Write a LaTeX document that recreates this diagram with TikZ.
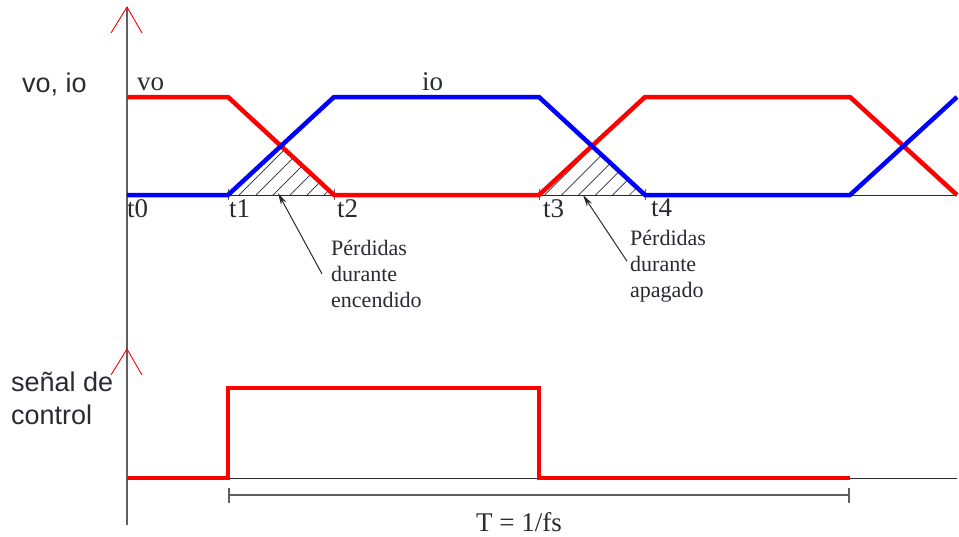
\documentclass[tikz,border=0pt]{standalone}
\usepackage{fontspec}
\setmainfont{Liberation Serif}
\setsansfont{Liberation Sans}
\usepackage{xcolor}
\usetikzlibrary{arrows.meta,patterns.meta}
\definecolor{ink}{RGB}{42,42,50}
\definecolor{axisgray}{RGB}{95,95,100}
\newcommand{\lblsize}{\fontsize{27}{33}\selectfont}
\newcommand{\notesize}{\fontsize{22}{26}\selectfont}

\begin{document}
\begin{tikzpicture}[x=1pt,y=-1pt,>={Stealth[length=12pt,width=6pt]},
  axis/.style={axisgray,line width=1.3pt},
  axtip/.style={red,line width=0.9pt},
  base/.style={ink,line width=1pt},
  tickmark/.style={axisgray,line width=0.9pt},
  vo/.style={red,line width=4.5pt,line join=miter},
  io/.style={blue,line width=4.5pt,line join=miter},
  loss/.style={pattern={Lines[angle=45,distance=12pt,line width=0.7pt]},pattern color=ink},
  tlab/.style={font=\lblsize,text=ink,inner sep=0pt,anchor=north west},
  slab/.style={font=\sffamily\lblsize,text=ink,inner sep=0pt,align=left},
  note/.style={font=\notesize,text=ink,inner sep=0pt,align=left,anchor=north west},
  pointer/.style={->,ink,line width=1pt},
  dim/.style={{Bar[width=15pt]}-{Bar[width=15pt]},axisgray,line width=1.8pt}]
\useasboundingbox (0,0) rectangle (959,536);
% time instants and levels
\coordinate (t0) at (127,195);
\coordinate (t1) at (228,195);
\coordinate (t2) at (334,195);
\coordinate (t3) at (539,195);
\coordinate (t4) at (645,195);
\coordinate (t5) at (850,195);
\coordinate (t6) at (957,195);
% axes
\draw[axis] (127,7) -- (127,525);
\draw[axtip] (111,33) -- (127,7) -- (142,33);
\draw[axtip] (111,375) -- (127,349) -- (142,375);
\draw[base] (t0) -- (t6);
\draw[base] (127,478) -- (957,478);
% switching losses
\fill[loss] (t1) -- (281,146) -- (t2) -- cycle;
\fill[loss] (t3) -- (592,146) -- (t4) -- cycle;
\foreach \t in {t1,t2,t3,t4}
  \draw[tickmark] ([yshift=-5pt]\t) -- ([yshift=6pt]\t);
% vo and io
\draw[vo] (127,97) -- (228,97) -- (t2) -- (t3) -- (645,97) -- (850,97) -- (t6);
\draw[io] (t0) -- (t1) -- (334,97) -- (539,97) -- (t4) -- (t5) -- (957,97);
% labels
\node[tlab] (lt0) at (127,199) {t0};
\node[tlab] (lt1) at (229,199) {t1};
\node[tlab] (lt2) at (337,199) {t2};
\node[tlab] (lt3) at (543,199) {t3};
\node[tlab] (lt4) at (651,199) {t4};
\node[tlab,anchor=base west] (lvo) at (137,90) {vo};
\node[tlab,anchor=base west] (lio) at (422,90) {io};
\node[slab,anchor=base west] (lvoio) at (22,92) {vo, io};
\node[slab,anchor=north west] (lctl) at (11,372) {señal de\\control};
% loss notes
\node[note] (ptOn) at (331,240) {Pérdidas\\durante\\encendido};
\node[note] (ptOff) at (630,230) {Pérdidas\\durante\\apagado};
\coordinate (onTip) at (278,193);
\coordinate (offTip) at (583,195);
\draw[pointer] ([xshift=-9pt]ptOn.west) -- (onTip);
\draw[pointer] ([xshift=-3pt,yshift=5pt]ptOff.west) -- (offTip);
% control signal
\draw[vo] (127,478) -- (228,478) -- (228,388) -- (539,388) -- (539,478) -- (850,478);
\coordinate (pa) at (228,495);
\coordinate (pb) at (850,495);
\draw[dim] (pa) -- (pb);
\node[tlab,anchor=base] (lT) at (519,531) {T = 1/fs};
\end{tikzpicture}
\end{document}
